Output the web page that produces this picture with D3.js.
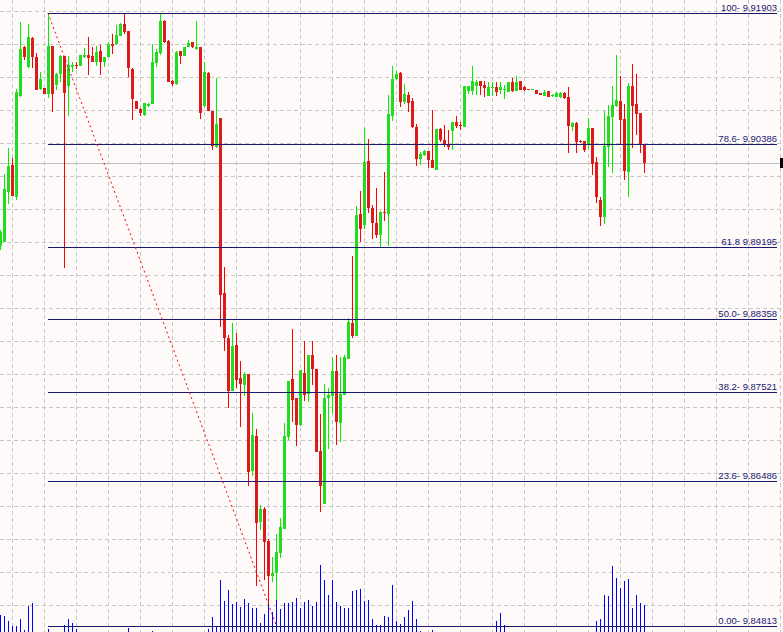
<!DOCTYPE html>
<html><head><meta charset="utf-8">
<script src="https://cdn.jsdelivr.net/npm/d3@7/dist/d3.min.js"></script>
<style>html,body{margin:0;padding:0;background:#fffafa;overflow:hidden}</style>
</head><body>
<svg id="c" width="783" height="632"></svg>
<script>
const open=[9.89208,9.89254,9.89832,9.90145,9.89775,9.90943,9.91509,9.91278,9.91613,9.91394,9.91024,9.91035,9.90966,9.91521,9.91070,9.91197,9.91405,9.91058,9.91278,9.91301,9.91290,9.91394,9.91417,9.91405,9.91336,9.91463,9.91336,9.91394,9.91544,9.91544,9.91637,9.91775,9.91694,9.91255,9.90885,9.90792,9.90723,9.90827,9.90850,9.91324,9.91440,9.91810,9.91579,9.91116,9.91081,9.91463,9.91405,9.91509,9.91567,9.91486,9.91509,9.90827,9.91209,9.90769,9.90353,9.90688,9.88664,9.88144,9.87531,9.88063,9.87681,9.87600,9.87727,9.86605,9.87010,9.86016,9.86166,9.85796,9.85391,9.85426,9.85657,9.85935,9.86999,9.87669,9.87450,9.87137,9.87739,9.87496,9.87947,9.87785,9.86837,9.86224,9.87450,9.87473,9.87762,9.87161,9.87484,9.87901,9.88317,9.88167,9.89578,9.89451,9.90191,9.89647,9.89474,9.89335,9.89601,9.89578,9.90711,9.91139,9.91209,9.90873,9.90954,9.90885,9.90584,9.90214,9.90260,9.90307,9.90202,9.90087,9.90561,9.90434,9.90388,9.90538,9.90642,9.90607,9.90584,9.91000,9.91000,9.91058,9.91116,9.91070,9.90943,9.91035,9.91047,9.91012,9.91012,9.90989,9.91105,9.91000,9.91116,9.91047,9.91024,9.91012,9.91012,9.90977,9.90943,9.91000,9.90943,9.90931,9.90931,9.90977,9.90931,9.90584,9.90630,9.90422,9.90422,9.90388,9.90573,9.90179,9.89740,9.89543,9.90353,9.90700,9.90827,9.90885,9.90677,9.90064,9.91058,9.90850,9.90746,9.90388];
const high=[9.89393,9.90041,9.90341,9.90226,9.91024,9.91799,9.91521,9.91775,9.91625,9.91440,9.91220,9.91035,9.91903,9.91521,9.91209,9.91417,9.91405,9.91405,9.91336,9.91336,9.91417,9.91498,9.91625,9.91509,9.91521,9.91533,9.91394,9.91567,9.91660,9.91764,9.91787,9.91891,9.91694,9.91267,9.90885,9.90804,9.90862,9.90862,9.91544,9.91486,9.91891,9.91822,9.91590,9.91128,9.91463,9.91463,9.91509,9.91590,9.91567,9.91810,9.91509,9.91336,9.91220,9.90769,9.91151,9.90688,9.88965,9.88178,9.88317,9.88202,9.87878,9.87750,9.87727,9.87276,9.87091,9.86212,9.86189,9.85819,9.85611,9.85877,9.86062,9.87161,9.87646,9.88248,9.87450,9.87774,9.88109,9.87947,9.88109,9.87785,9.87265,9.87612,9.87565,9.87924,9.87947,9.87924,9.87947,9.88375,9.89092,9.89670,9.89844,9.90573,9.90445,9.89682,9.89879,9.89613,9.90064,9.90954,9.91290,9.91232,9.91220,9.91081,9.90989,9.90920,9.90619,9.90295,9.90318,9.90307,9.90781,9.90561,9.90573,9.90607,9.90549,9.90642,9.90711,9.90642,9.91058,9.91058,9.91290,9.91128,9.91116,9.91116,9.91105,9.91105,9.91105,9.91105,9.91070,9.91105,9.91151,9.91174,9.91116,9.91058,9.91024,9.91024,9.91012,9.90977,9.91012,9.91000,9.90966,9.90989,9.90989,9.90989,9.91047,9.90642,9.90642,9.90434,9.90422,9.90688,9.90573,9.90237,9.89775,9.90769,9.90839,9.91058,9.91417,9.91174,9.90850,9.91093,9.91313,9.91197,9.90746,9.90388];
const low=[9.89162,9.89254,9.89694,9.89786,9.89740,9.90931,9.91359,9.91267,9.91267,9.91012,9.91012,9.90966,9.90920,9.90758,9.91012,9.91105,9.88953,9.90711,9.91220,9.91255,9.91290,9.91382,9.91186,9.91336,9.91290,9.91186,9.91278,9.91394,9.91428,9.91533,9.91637,9.91660,9.91162,9.90665,9.90792,9.90711,9.90711,9.90815,9.90850,9.91278,9.91417,9.91556,9.91105,9.91058,9.91070,9.91313,9.91405,9.91509,9.91498,9.91475,9.90677,9.90815,9.90769,9.90318,9.90341,9.88271,9.87993,9.87334,9.87531,9.87565,9.87114,9.87473,9.86432,9.86548,9.85275,9.85923,9.85345,9.85056,9.85322,9.85113,9.85599,9.85935,9.86964,9.87172,9.86895,9.87126,9.87415,9.87403,9.87600,9.86825,9.86131,9.86224,9.86860,9.87276,9.86906,9.86941,9.87484,9.87901,9.88144,9.88167,9.89254,9.89404,9.89589,9.89289,9.89300,9.89196,9.89497,9.89208,9.90654,9.91128,9.90815,9.90850,9.90758,9.90573,9.90133,9.90145,9.90249,9.90110,9.90110,9.90087,9.90411,9.90353,9.90318,9.90318,9.90573,9.90549,9.90584,9.90966,9.90954,9.90954,9.90954,9.90931,9.90943,9.90943,9.90943,9.90966,9.90908,9.90989,9.90989,9.91000,9.91012,9.91000,9.91012,9.91012,9.90966,9.90954,9.90943,9.90931,9.90931,9.90931,9.90920,9.90908,9.90283,9.90538,9.90283,9.90399,9.90295,9.90330,9.90029,9.89705,9.89439,9.89462,9.90121,9.90052,9.90815,9.90376,9.89971,9.89775,9.90341,9.90492,9.90283,9.90052];
const close=[9.89370,9.89867,9.90133,9.89786,9.90989,9.91486,9.91394,9.91625,9.91394,9.91012,9.91139,9.90966,9.91521,9.90966,9.91197,9.91405,9.90977,9.91301,9.91301,9.91290,9.91417,9.91417,9.91382,9.91336,9.91452,9.91336,9.91394,9.91544,9.91521,9.91648,9.91775,9.91683,9.91267,9.90908,9.90792,9.90746,9.90862,9.90850,9.91336,9.91452,9.91810,9.91567,9.91105,9.91081,9.91452,9.91405,9.91509,9.91556,9.91509,9.91509,9.90746,9.91220,9.90769,9.90364,9.90619,9.88641,9.88144,9.87531,9.88051,9.87658,9.87612,9.87727,9.86594,9.87022,9.86004,9.86166,9.85784,9.85391,9.85426,9.85669,9.85958,9.87010,9.87646,9.87427,9.87137,9.87774,9.87484,9.87947,9.87785,9.86825,9.86432,9.87450,9.87484,9.87762,9.87172,9.87496,9.87924,9.88329,9.88167,9.89566,9.89404,9.90179,9.89647,9.89474,9.89335,9.89601,9.89589,9.90734,9.91139,9.91197,9.90873,9.90966,9.90862,9.90584,9.90214,9.90272,9.90307,9.90202,9.90110,9.90561,9.90434,9.90388,9.90353,9.90642,9.90596,9.90596,9.91058,9.91058,9.91116,9.91105,9.91058,9.91035,9.91047,9.91047,9.90989,9.91047,9.91024,9.91105,9.91000,9.91105,9.91012,9.91012,9.91012,9.91024,9.90966,9.90954,9.90989,9.90931,9.90954,9.90977,9.90977,9.90920,9.90596,9.90630,9.90411,9.90411,9.90318,9.90573,9.90156,9.89775,9.89543,9.90364,9.90711,9.90839,9.90896,9.90665,9.90075,9.91058,9.90827,9.90734,9.90376,9.90168];
const volume=[170,160,110,60,60,130,20,260,290,0,0,0,30,0,0,0,70,130,90,30,
0,0,0,0,0,0,0,0,0,0,0,0,40,0,0,0,0,0,10,0,
0,0,0,0,0,0,0,0,0,0,0,0,30,150,60,520,310,420,280,300,
250,330,290,240,240,90,180,310,200,320,230,290,290,300,340,240,300,320,260,300,
670,520,370,520,300,260,240,240,410,420,430,310,320,130,70,70,160,150,470,110,
80,150,220,310,130,10,0,0,20,0,0,0,0,0,0,0,0,0,0,0,
0,0,0,0,110,190,70,0,0,0,0,0,0,0,0,0,0,0,0,0,
0,0,0,0,0,0,0,0,0,110,130,370,360,660,540,440,510,530,240,370,
290,270];
const fibLevels=["100","78.6","61.8","50.0","38.2","23.6","0.00"];
const fibPrices=[9.91903,9.90386,9.89195,9.88358,9.87521,9.86486,9.84813];
const fibSep=["- ","- "," ","- ","- ","- ","- "];
const fibAnchorBars=[12,69];
const fibAnchorPrices=[9.91903,9.84813];

const W=783,H=632;
const svg=d3.select("#c");
svg.append("rect").attr("width",W).attr("height",H).attr("fill","#fffafa");

const n=open.length;
const x=d3.scaleLinear().domain([0,n-1]).range([0.5,4*(n-1)+0.5]);
const y=d3.scaleLinear().domain([9.84813,9.91903]).range([626,13]);
const v=d3.scaleLinear().domain([0,1000]).range([632,532]);

// grid
const g=svg.append("g").attr("shape-rendering","crispEdges");
const vIdx=d3.range(3,200,8).filter(i=>x(i)<W);
g.selectAll("line.vg").data(vIdx).join("line")
 .attr("x1",d=>x(d)).attr("x2",d=>x(d)).attr("y1",0).attr("y2",H)
 .attr("stroke","#c8c8c8").attr("stroke-dasharray","4,3");
const hRows=d3.range(0,20).map(k=>11.5+33*k).filter(t=>t<H);
g.selectAll("line.hg").data(hRows).join("line")
 .attr("x1",0).attr("x2",W).attr("y1",d=>d).attr("y2",d=>d)
 .attr("stroke","#c8c8c8").attr("stroke-dasharray","4,3");

// bid line
const bidY=Math.round(y(close[n-1]))+0.5;
g.append("line").attr("x1",0).attr("x2",780).attr("y1",bidY).attr("y2",bidY).attr("stroke","#c0c0c0");

// volumes
const idx=d3.range(n);
svg.append("g").attr("shape-rendering","crispEdges").selectAll("rect")
 .data(idx.filter(i=>volume[i]>0)).join("rect")
 .attr("x",i=>x(i)-0.5).attr("width",1)
 .attr("y",i=>Math.round(v(volume[i]))).attr("height",i=>H-Math.round(v(volume[i])))
 .attr("fill","#0000ff");

// candles
const cg=svg.append("g").attr("shape-rendering","crispEdges");
cg.selectAll("rect.w").data(idx).join("rect")
 .attr("x",i=>x(i)-0.5).attr("width",1)
 .attr("y",i=>Math.round(y(high[i])))
 .attr("height",i=>Math.max(1,Math.round(y(low[i]))-Math.round(y(high[i]))))
 .attr("fill",i=>close[i]>=open[i]?"#00f000":"#ff0000");
cg.selectAll("rect.b").data(idx).join("rect")
 .attr("x",i=>x(i)-1.5).attr("width",3)
 .attr("y",i=>Math.round(y(Math.max(open[i],close[i]))))
 .attr("height",i=>Math.max(1,Math.round(y(Math.min(open[i],close[i])))-Math.round(y(Math.max(open[i],close[i])))))
 .attr("fill",i=>close[i]>=open[i]?"#22dc22":"#dc1c1c");

// fib lines
const fx0=x(fibAnchorBars[0])-0.5, fx1=777;
const fg=svg.append("g");
fg.selectAll("line").data(fibPrices).join("line")
 .attr("shape-rendering","crispEdges")
 .attr("x1",fx0).attr("x2",fx1)
 .attr("y1",d=>Math.round(y(d))+0.5).attr("y2",d=>Math.round(y(d))+0.5)
 .attr("stroke","#191970").attr("stroke-width",1);
fg.append("line")
 .attr("x1",x(fibAnchorBars[0])-0.5).attr("y1",y(fibAnchorPrices[0]))
 .attr("x2",x(fibAnchorBars[1])).attr("y2",y(fibAnchorPrices[1]))
 .attr("stroke","#ff0000").attr("stroke-width",1).attr("stroke-dasharray","2,3");
fg.selectAll("text").data(fibPrices).join("text")
 .attr("x",fx1).attr("y",d=>Math.round(y(d))-2)
 .attr("text-anchor","end")
 .attr("font-family","'Liberation Sans', Arial, sans-serif").attr("font-size","9.5px")
 .attr("fill","#191970")
 .text((d,i)=>fibLevels[i]+fibSep[i]+d.toFixed(5));

// price marker
svg.append("rect").attr("x",780).attr("y",bidY-5.5).attr("width",3).attr("height",10).attr("fill","#000");
</script>
</body></html>
